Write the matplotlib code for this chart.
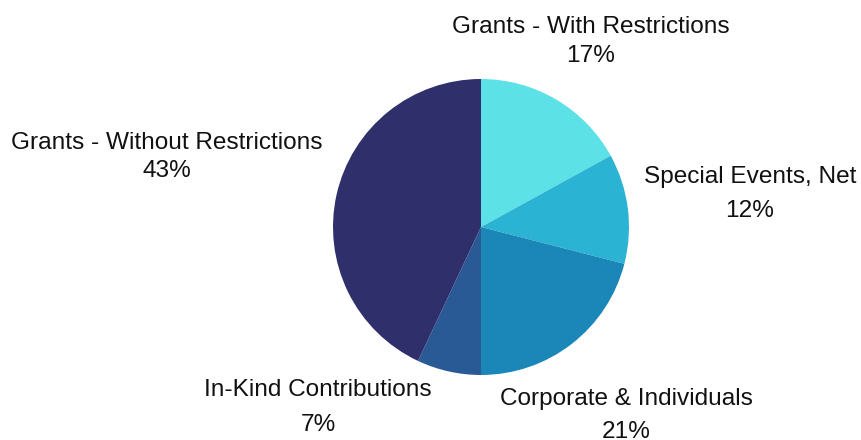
import matplotlib.pyplot as plt

# Datos del gráfico (sentido horario desde arriba)
categorias = ['Grants - With Restrictions', 'Special Events, Net',
              'Corporate & Individuals', 'In-Kind Contributions',
              'Grants - Without Restrictions']
porcentajes = [17, 12, 21, 7, 43]
colores = ['#5ce1e6', '#2bb3d4', '#1a87b8', '#2a5a96', '#2e2f6b']

plt.rcParams['font.family'] = ['Liberation Sans', 'DejaVu Sans']

W, H = 862, 440
cx, cy, r = 481, 227, 148

fig = plt.figure(figsize=(W / 100, H / 100), dpi=100)
ax = fig.add_axes([(cx - r) / W, (H - cy - r) / H, 2 * r / W, 2 * r / H])
ax.pie(porcentajes, colors=colores, startangle=90, counterclock=False,
       radius=1, wedgeprops={'linewidth': 0})
ax.set_xlim(-1, 1)
ax.set_ylim(-1, 1)
ax.set_aspect('equal')
ax.axis('off')

# posiciones de etiquetas en pixeles (centro de cada línea)
pos_etiquetas = [(591, 27, 56), (750, 177, 211), (626, 399, 432),
                 (318, 390, 425), (167, 143, 171)]


def to_data(px, py):
    return (px - cx) / r, (cy - py) / r


for cat, pct, (px, py1, py2) in zip(categorias, porcentajes, pos_etiquetas):
    x, y = to_data(px, py1)
    ax.text(x, y, cat, ha='center', va='center', fontsize=17.6, color='#111111', clip_on=False)
    x, y = to_data(px, py2)
    ax.text(x, y, f'{pct}%', ha='center', va='center', fontsize=17.6, color='#111111', clip_on=False)

fig.savefig('out.png', dpi=100)
